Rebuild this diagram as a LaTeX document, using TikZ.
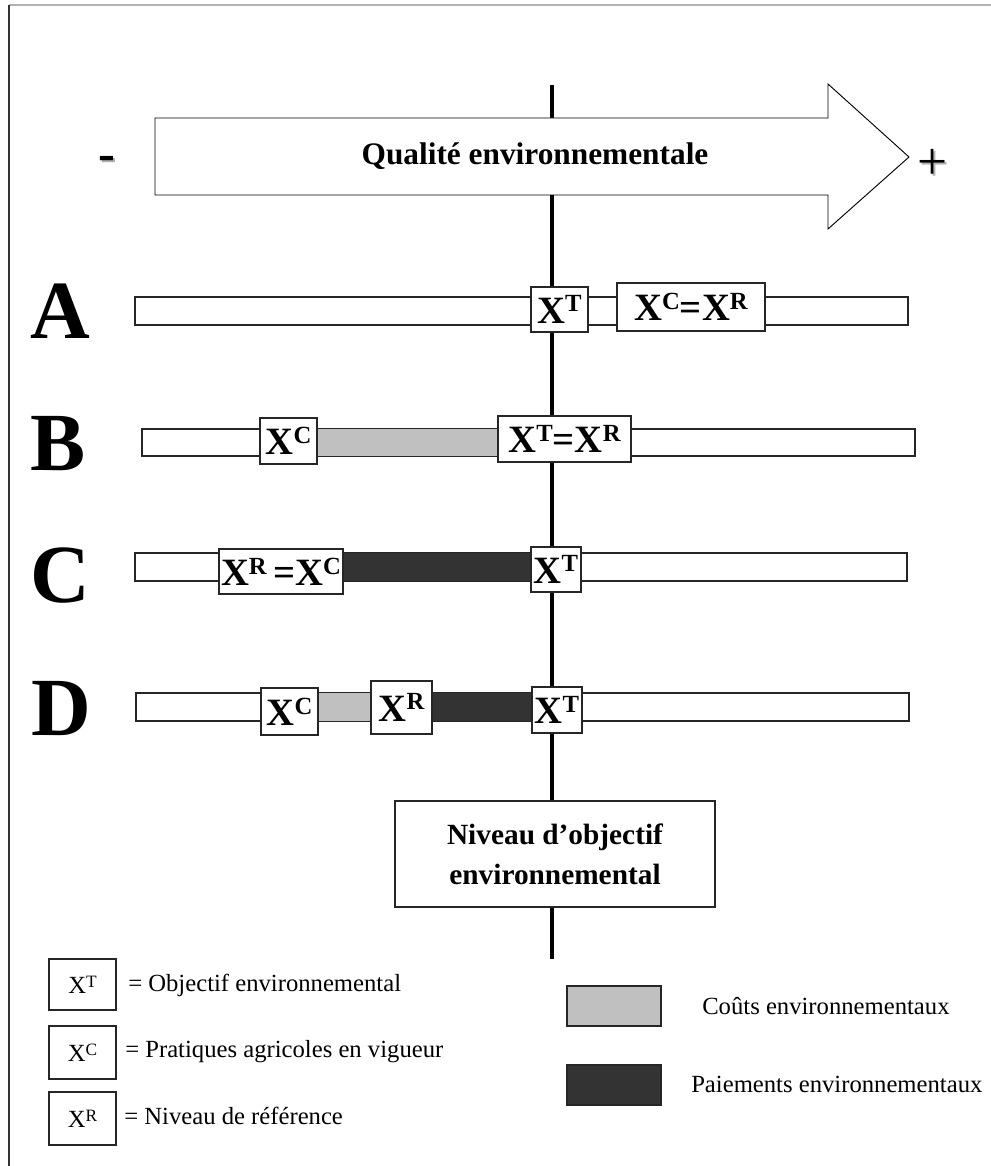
\documentclass[tikz,border=0pt]{standalone}
\usepackage{fontspec}
\setmainfont{Liberation Serif}
\newfontfamily\lgdfont{Liberation Serif}
\definecolor{costgray}{HTML}{C0C0C0}
\definecolor{paydark}{HTML}{333333}
\definecolor{edge}{HTML}{262626}
\newcommand\bsup[1]{\raisebox{8.5pt}{\fontsize{18.5pt}{18.5pt}\selectfont #1}}
\newcommand\rsup[1]{\raisebox{4.4pt}{\fontsize{13pt}{13pt}\selectfont #1}}
\tikzset{
  pxbox/.style n args={2}{minimum width=#1*0.75pt, minimum height=#2*0.75pt},
  barshape/.style={draw=edge, line width=0.8pt, fill=white, inner sep=0pt},
  valbox/.style={draw=edge, line width=0.8pt, fill=white, inner sep=0pt,
    font=\fontsize{29pt}{30pt}\selectfont\bfseries},
  rowlabel/.style={inner sep=0pt, font=\fontsize{62pt}{62pt}\selectfont\bfseries},
  legbox/.style={draw=edge, line width=0.8pt, fill=white, inner sep=0pt,
    font=\lgdfont\fontsize{18.5pt}{22pt}\selectfont},
  legtext/.style={anchor=base west, inner sep=0pt,
    font=\lgdfont\fontsize{18.5pt}{22pt}\selectfont},
  swatch/.style={draw=edge, line width=0.8pt, inner sep=0pt},
  axisline/.style={line width=3pt, black},
  bigarrow/.style={draw=black, line width=0.7pt, fill=white},
  signtext/.style={inner sep=0pt},
  seg/.style={draw=edge, line width=0.8pt}
}
\begin{document}
\begin{tikzpicture}[x=0.75pt,y=-0.75pt]
\useasboundingbox (0,0) rectangle (991,1166);
% frame
\coordinate (fTL) at (9,5);
\coordinate (fTR) at (991,5);
\coordinate (fBL) at (9,1166);
\draw[gray!60, line width=1.2pt] (fTL) -- (fTR);
\draw[black!80, line width=0.9pt] (fTL) -- (fBL);

% vertical axis
\coordinate (axtop) at (552,85);
\coordinate (axbot) at (552,959);
\draw[axisline] (axtop) -- (axbot);

% big arrow
\draw[bigarrow] (155,118) -- (828,118) -- (828,84) -- (909,157) -- (828,229) -- (828,195) -- (155,195) -- cycle;
\node[anchor=base, inner sep=0pt, font=\fontsize{23.5pt}{26pt}\selectfont\bfseries] (qual) at (535,165) {Qualité environnementale};
\node[signtext, anchor=base, text=black!30, font=\fontsize{38pt}{38pt}\selectfont\bfseries] (minussh) at (108.5,173) {-};
\node[signtext, anchor=base, font=\fontsize{38pt}{38pt}\selectfont\bfseries] (minus) at (106.5,171) {-};
\node[signtext, text=black!30, font=\fontsize{40pt}{40pt}\selectfont] (plussh) at (935,166) {+};
\node[signtext, font=\fontsize{40pt}{40pt}\selectfont] (plus) at (933,164) {+};

% row labels
\node[rowlabel] (labA) at (60,311) {A};
\node[rowlabel] (labB) at (58,444) {B};
\node[rowlabel] (labC) at (60,576) {C};
\node[rowlabel] (labD) at (61,709) {D};

% row A
\node[barshape, pxbox={773}{28}] (barA) at (521.5,311) {};
\node[valbox, pxbox={57}{45}] (aXT) at (559.5,309.5) {X\bsup{T}};
\node[valbox, pxbox={148}{48}] (aXCR) at (691,307) {X\bsup{C}=X\bsup{R}};

% row B
\node[barshape, pxbox={773}{27}] (barB) at (528.5,442.5) {};
\node[valbox, pxbox={57}{46}] (bXC) at (288.5,441) {X\bsup{C}};
\node[valbox, pxbox={133}{46}] (bXTR) at (564.5,439) {X\bsup{T}=X\bsup{R}};
\filldraw[seg, fill=costgray] (bXC.east |- barB.north) rectangle (bXTR.west |- barB.south);
\node[valbox, pxbox={57}{46}] at (bXC) {X\bsup{C}};
\node[valbox, pxbox={133}{46}] at (bXTR) {X\bsup{T}=X\bsup{R}};

% row C
\node[barshape, pxbox={772}{28}] (barC) at (521,567) {};
\node[valbox, pxbox={124}{45}] (cXRC) at (281,571.5) {X\bsup{R}\,=X\bsup{C}};
\node[valbox, pxbox={50}{45}] (cXT) at (556,569.5) {X\bsup{T}};
\filldraw[seg, fill=paydark] (cXRC.east |- barC.north) rectangle (cXT.west |- barC.south);
\node[valbox, pxbox={124}{45}] at (cXRC) {X\bsup{R}\,=X\bsup{C}};
\node[valbox, pxbox={50}{45}] at (cXT) {X\bsup{T}};

% row D
\node[barshape, pxbox={773}{28}] (barD) at (522.5,707) {};
\node[valbox, pxbox={57}{47}] (dXC) at (289.5,711.5) {X\bsup{C}};
\node[valbox, pxbox={61}{53}] (dXR) at (401.5,707.5) {X\bsup{R}};
\node[valbox, pxbox={50}{46}] (dXT) at (557,710) {X\bsup{T}};
\filldraw[seg, fill=costgray] (dXC.east |- barD.north) rectangle (dXR.west |- barD.south);
\filldraw[seg, fill=paydark] (dXR.east |- barD.north) rectangle (dXT.west |- barD.south);
\node[valbox, pxbox={57}{47}] at (dXC) {X\bsup{C}};
\node[valbox, pxbox={61}{53}] at (dXR) {X\bsup{R}};
\node[valbox, pxbox={50}{46}] at (dXT) {X\bsup{T}};

% objective level box
\node[draw=edge, line width=0.8pt, fill=white, pxbox={320}{106}, align=center,
  font=\fontsize{22pt}{30pt}\selectfont\bfseries] (niveau) at (555,854)
  {Niveau d’objectif\\environnemental};

% legend
\node[legbox, pxbox={67}{51}] (lXT) at (82.5,984.5) {X\rsup{T}};
\node[legbox, pxbox={67}{53}] (lXC) at (82.5,1052.5) {X\rsup{C}};
\node[legbox, pxbox={67}{53}] (lXR) at (82.5,1118.5) {X\rsup{R}};
\node[legtext] (tXT) at (128,991) {= Objectif environnemental};
\node[legtext] (tXC) at (125,1057) {= Pratiques agricoles en vigueur};
\node[legtext] (tXR) at (124,1124) {= Niveau de référence};

\node[swatch, fill=costgray, pxbox={94}{40}] (swcost) at (614,1006) {};
\node[swatch, fill=paydark, pxbox={94}{40}] (swpay) at (614,1085) {};
\node[legtext] (tcost) at (702,1014) {Coûts environnementaux};
\node[legtext] (tpay) at (691,1092) {Paiements environnementaux};
\end{tikzpicture}
\end{document}
